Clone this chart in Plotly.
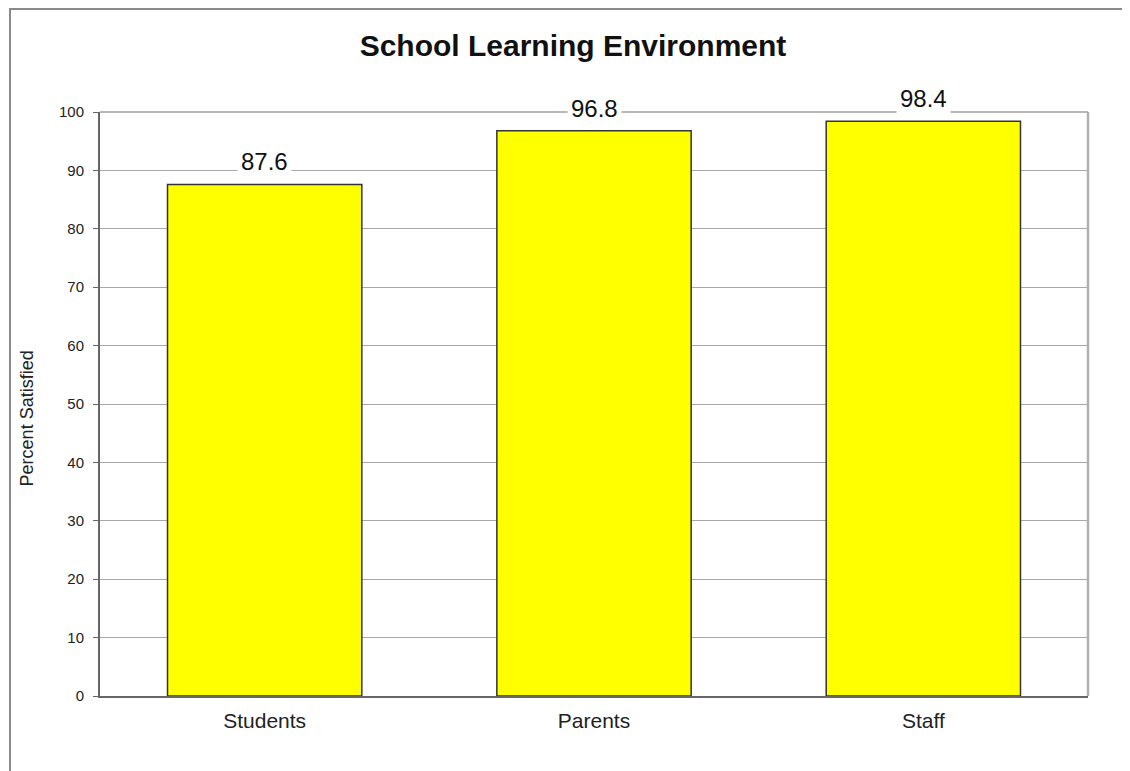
import plotly.graph_objects as go

categories = ["Students", "Parents", "Staff"]
values = [87.6, 96.8, 98.4]
value_labels = ["87.6", "96.8", "98.4"]
y_ticks = [0, 10, 20, 30, 40, 50, 60, 70, 80, 90, 100]

FONT = "Arial, Liberation Sans, sans-serif"

fig = go.Figure()
fig.add_trace(go.Bar(
    x=categories, y=values,
    marker=dict(color="#FFFF00", line=dict(color="#333333", width=1.5)),
    width=0.59,
    hoverinfo="skip",
))

for c, v, t in zip(categories, values, value_labels):
    fig.add_annotation(
        x=c, y=v, text=t, showarrow=False, yanchor="bottom", yshift=5,
        font=dict(family=FONT, size=24, color="#111111"),
        bgcolor="white", borderpad=3,
    )

# y-axis title
fig.add_annotation(
    xref="paper", yref="paper", x=-0.0735, y=0.476, xanchor="center", yanchor="middle",
    text="Percent Satisfied", textangle=-90, showarrow=False,
    font=dict(family=FONT, size=18, color="#222222"),
)

# outer chart frame (left and top visible)
fig.add_shape(type="rect", xref="paper", yref="paper",
              x0=-0.0911, x1=1.2, y0=-0.3, y1=1.1764,
              line=dict(color="#8a8a8a", width=2), layer="below")
# top border of plot area
fig.add_shape(type="line", xref="paper", yref="paper",
              x0=0, x1=1, y0=1, y1=1,
              line=dict(color="#a0a0a0", width=1.5))
# right border of plot area
fig.add_shape(type="line", xref="paper", yref="paper",
              x0=1, x1=1, y0=0, y1=1,
              line=dict(color="#b0b0b0", width=2.5))

fig.update_layout(
    width=1130, height=771,
    margin=dict(l=92, r=50, t=104, b=83),
    paper_bgcolor="white", plot_bgcolor="white",
    showlegend=False,
    title=dict(text="<b>School Learning Environment</b>", x=0.5, xanchor="center",
               y=0.952, yanchor="middle",
               font=dict(family=FONT, size=30, color="#111111")),
    font=dict(family=FONT, color="#222222"),
)
fig.update_xaxes(
    showline=True, linecolor="#666666", linewidth=2,
    tickfont=dict(size=21, color="#222222"), ticks="", showgrid=False,
    ticklabelstandoff=5,
)
fig.update_yaxes(
    range=[0, 100], tickvals=y_ticks, showgrid=True, gridcolor="#a8a8a8", gridwidth=1,
    showline=True, linecolor="#666666", linewidth=2,
    ticks="outside", ticklen=5, tickcolor="#666666",
    tickfont=dict(size=15, color="#222222"),
    ticklabelstandoff=6,
    zeroline=False,
)

fig.write_html("out.html")
